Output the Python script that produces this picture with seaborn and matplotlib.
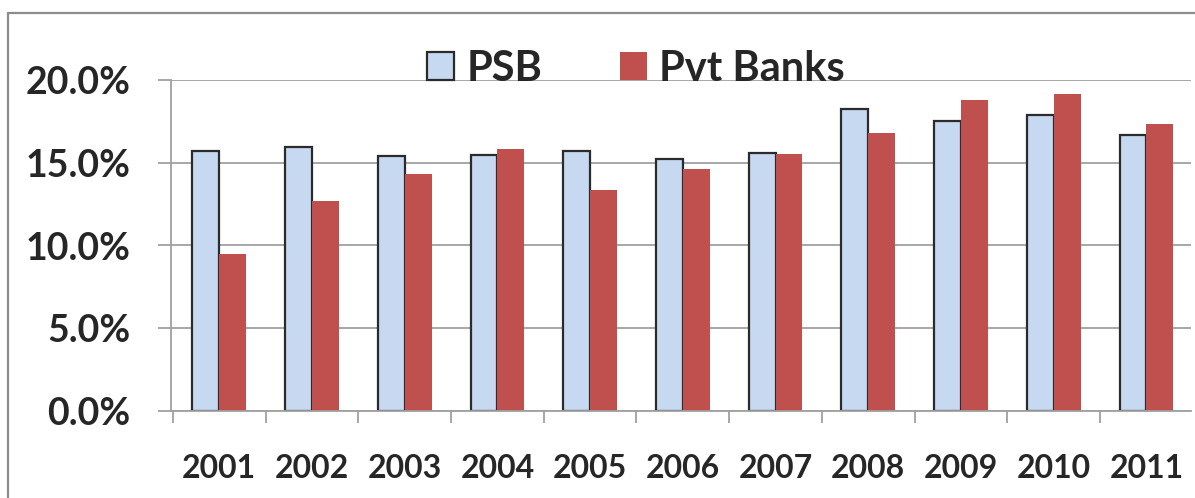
import numpy as np
import pandas as pd
import matplotlib
matplotlib.use("Agg")
import matplotlib.pyplot as plt
from matplotlib.lines import Line2D
from matplotlib.patches import Patch
from matplotlib.ticker import PercentFormatter, FixedLocator
import seaborn as sns

# data
years = ['2001', '2002', '2003', '2004', '2005', '2006', '2007', '2008', '2009', '2010', '2011']
psb = [0.1573, 0.1593, 0.1543, 0.1549, 0.1572, 0.1522, 0.1558, 0.1823, 0.1754, 0.1789, 0.1668]
pvt = [0.0947, 0.1270, 0.1434, 0.1585, 0.1335, 0.1460, 0.1550, 0.1682, 0.1877, 0.1914, 0.1732]
series = ['PSB', 'Pvt Banks']
colors = ['#C6D9F1', '#C0504D']

df = pd.DataFrame({
    'Year': years * 2,
    'Bank': [series[0]] * len(years) + [series[1]] * len(years),
    'Ratio': psb + pvt,
})

sns.set_style('white')
plt.rcParams['font.family'] = ['Lato', 'DejaVu Sans']
plt.rcParams['font.weight'] = 'bold'

W, H = 1195, 498
fig = plt.figure(figsize=(W / 100, H / 100), dpi=100)
ax = fig.add_axes([171 / W, 1 - 411 / H, (1191 - 171) / W, (411 - 80) / H])

sns.barplot(data=df, x='Year', y='Ratio', hue='Bank', palette=colors,
            width=0.58, errorbar=None, saturation=1, ax=ax, legend=False)

for bar in ax.containers[0]:
    bar.set_edgecolor('#2b2b2b')
    bar.set_linewidth(1.6)
for bar in ax.containers[1]:
    bar.set_edgecolor('none')

grey = '#a0a0a0'
ax.set_xlim(-0.52, len(years) - 0.52)
ax.set_ylim(0, 0.2)
ax.set_yticks(np.arange(0, 0.2001, 0.05))
ax.yaxis.set_major_formatter(PercentFormatter(1.0, decimals=1))
ax.yaxis.grid(True, color=grey, linewidth=1.3)
ax.set_axisbelow(True)
ax.set_xlabel('')
ax.set_ylabel('')

for s in ['top', 'right']:
    ax.spines[s].set_visible(False)
for s in ['left', 'bottom']:
    ax.spines[s].set_color(grey)
    ax.spines[s].set_linewidth(1.3)

ax.tick_params(axis='y', length=9.4, width=1.3, color=grey, pad=20, labelsize=27, left=True)
ax.tick_params(axis='x', which='major', length=0, pad=31, labelsize=23)
ax.xaxis.set_minor_locator(FixedLocator(np.arange(-0.5, len(years), 1.0)))
ax.tick_params(axis='x', which='minor', length=8.6, width=1.3, color=grey, bottom=True)
for t in ax.get_xticklabels() + ax.get_yticklabels():
    t.set_fontweight('bold')

handles = [Patch(facecolor=colors[0], edgecolor='#2b2b2b', linewidth=1.6),
           Patch(facecolor=colors[1], edgecolor='none')]
fig.legend(handles, series, loc='center left', bbox_to_anchor=(427 / W, 1 - 69 / H),
           ncol=2, frameon=False, prop={'weight': 'bold', 'size': 30},
           handlelength=0.65, handleheight=0.65, handletextpad=0.3,
           columnspacing=1.85, borderpad=0, borderaxespad=0)

# outer chart border (left and top edges visible)
fig.add_artist(Line2D([8 / W, 8 / W], [0, 1 - 13 / H], color='#8c8c8c', linewidth=1.6))
fig.add_artist(Line2D([8 / W, 1], [1 - 13 / H, 1 - 13 / H], color='#8c8c8c', linewidth=1.6))

fig.savefig('out.png', dpi=100)
